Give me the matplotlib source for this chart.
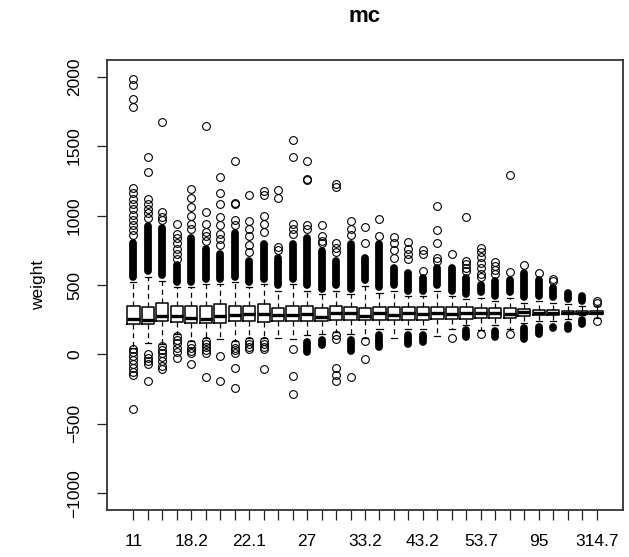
import matplotlib.pyplot as plt

plt.rcParams["font.family"] = ["Liberation Sans", "DejaVu Sans"]

# x tick labels (R only printed every 4th group label)
x_labels = ["11", "18.2", "22.1", "27", "33.2", "43.2", "53.7", "95", "314.7"]
label_every = 4

# box statistics, one value per group (33 groups)
q1 = [217, 217, 241, 236, 229, 229, 229, 241, 241, 236, 241, 241, 241, 241, 250, 245, 245,
      250, 248, 248, 250, 252, 255, 258, 260, 262, 262, 280, 285, 287, 288, 290, 290]
med = [258, 251, 275, 278, 265, 258, 278, 285, 290, 290, 285, 285, 290, 270, 300, 295, 280,
       300, 285, 295, 290, 298, 292, 300, 295, 300, 290, 305, 300, 302, 300, 300, 300]
q3 = [348, 343, 370, 350, 348, 348, 362, 350, 348, 362, 338, 350, 350, 338, 350, 345, 338,
      345, 340, 345, 340, 345, 340, 342, 338, 335, 335, 325, 322, 320, 316, 314, 313]
whis_lo = [48, 80, 75, 150, 100, 115, 109, 100, 120, 120, 120, 109, 140, 150, 160, 150, 120,
           185, 120, 185, 185, 133, 183, 215, 175, 215, 183, 230, 240, 240, 255, 285, 265]
whis_hi = [519, 560, 531, 483, 483, 507, 507, 519, 483, 507, 459, 507, 459, 435, 459, 435, 495,
           446, 459, 422, 422, 459, 422, 400, 410, 386, 410, 374, 386, 374, 362, 350, 350]

# solid runs of overlapping outliers above the upper whisker (top value)
dense_hi_top = [830, 950, 940, 670, 870, 790, 750, 900, 700, 820, 726, 820, 870, 773, 700, 821, 725,
                821, 654, 617, 581, 654, 654, 581, 531, 555, 567, 618, 567, 510, 473, 446, None]
# solid runs of overlapping outliers below the lower whisker (top, bottom)
dense_lo_top = [None, None, None, None, None, None, None, None, None, None, None, None,
                120, 133, None, 133, None, 170, None, 170, 169, None, None, 205, None,
                200, None, 219, 229, 229, 241, 278, None]
dense_lo_bot = [None, None, None, None, None, None, None, None, None, None, None, None,
                -12, 38, None, -5, None, 24, None, 48, 60, None, None, 96, None,
                100, None, 84, 120, 160, 157, 193, None]

# separate outliers
out_hi = [
    [1985, 1942, 1841, 1783, 1197, 1162, 1118, 1082, 1046, 1003, 966, 930, 893, 860],
    [1425, 1313, 1118, 1082, 1050, 1016, 985],
    [1675, 1023, 990, 965],
    [940, 870, 840, 800, 760, 720, 690],
    [1190, 1125, 1060, 1000, 940, 900],
    [1642, 1026, 940, 880, 850, 820],
    [1280, 1164, 1082, 990, 930, 870, 830, 790],
    [1396, 1091, 1080, 966, 930],
    [1147, 960, 900, 850, 790, 740],
    [1180, 1150, 1000, 940, 880],
    [1183, 1125, 774, 750],
    [1546, 1425, 940, 900, 870],
    [1396, 1263, 1255, 930, 900],
    [930, 850, 820, 800],
    [1228, 1205, 800, 770, 740],
    [960, 900, 860],
    [916, 799],
    [973, 850],
    [845, 799, 749, 691],
    [809, 760, 720, 690],
    [749, 726, 604],
    [1068, 893, 799, 691, 672],
    [726],
    [990, 676, 650, 625, 604],
    [763, 740, 700, 660, 620, 580, 555],
    [664, 640, 610, 580],
    [1290, 591],
    [645],
    [590],
    [545, 530],
    [],
    [],
    [386, 372],
]
out_lo = [
    [36, 15, -10, -40, -70, -100, -125, -145, -396],
    [2, -25, -50, -70, -188],
    [60, 35, 10, -20, -50, -80, -107],
    [133, 105, 80, 50, 20, -24],
    [75, 50, 25, 10, -70],
    [96, 75, 55, 35, 10, -162],
    [-12, -188],
    [75, 50, 30, 10, -97, -242],
    [96, 75, 55, 38],
    [96, 75, 55, 38, -107],
    [],
    [38, -157, -285],
    [],
    [],
    [140, 109, -97, -145, -193],
    [-165],
    [96, -35],
    [], [], [], [], [],
    [120],
    [],
    [150],
    [],
    [147],
    [], [], [], [], [],
    [241],
]

n = len(med)
pos = list(range(1, n + 1))
CAP = 28  # round cap radius of the solid outlier runs, in data units

stats = []
for i in range(n):
    stats.append(dict(med=med[i], q1=q1[i], q3=q3[i], whislo=whis_lo[i],
                      whishi=whis_hi[i], fliers=out_hi[i] + out_lo[i]))

fig = plt.figure(figsize=(6.29, 5.57), dpi=100)
ax = fig.add_axes([107 / 629, 1 - 510 / 557, 516 / 629, 450 / 557])

# solid outlier runs drawn as thick round-capped strokes
for i in range(n):
    if dense_hi_top[i] is not None:
        a = whis_hi[i] + 10 + CAP
        b = max(dense_hi_top[i] - CAP, a)
        ax.plot([pos[i], pos[i]], [a, b], color="black", lw=5.6,
                solid_capstyle="round", zorder=1)
    if dense_lo_top[i] is not None:
        a = dense_lo_top[i] - CAP
        b = min(dense_lo_bot[i] + CAP, a)
        ax.plot([pos[i], pos[i]], [a, b], color="black", lw=5.6,
                solid_capstyle="round", zorder=1)

ax.bxp(stats, positions=pos, widths=0.85, capwidths=0.42, patch_artist=False,
       boxprops=dict(color="black", lw=1.1),
       medianprops=dict(color="black", lw=2.4, solid_capstyle="butt"),
       whiskerprops=dict(color="black", lw=0.9, linestyle=(0, (4, 3))),
       capprops=dict(color="black", lw=0.9),
       flierprops=dict(marker="o", markerfacecolor="none", markeredgecolor="black",
                       markersize=5.6, markeredgewidth=0.8))

ax.set_xlim(-0.82, n + 1.82)
ax.set_ylim(-1120, 2120)

ax.set_xticks(pos)
ax.set_xticklabels([x_labels[i // label_every] if i % label_every == 0 else ""
                    for i in range(n)])
ax.set_yticks([-1000, -500, 0, 500, 1000, 1500, 2000])
ax.tick_params(axis="both", length=7, width=0.9, labelsize=12.5, color="#222222")
ax.tick_params(axis="x", pad=10)
ax.tick_params(axis="y", pad=11)
plt.setp(ax.get_yticklabels(), rotation=90, va="center")

for sp in ax.spines.values():
    sp.set_visible(True)
    sp.set_color("#333333")
    sp.set_linewidth(1.3)
    sp.set_zorder(5)

ax.set_title("mc", fontsize=16, fontweight="bold", pad=27)
ax.set_ylabel("weight", fontsize=12.5, labelpad=15)

fig.savefig("out.png", dpi=100)
